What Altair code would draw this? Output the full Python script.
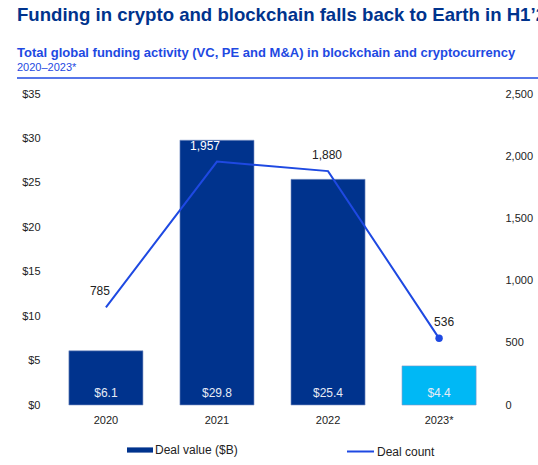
import altair as alt
import pandas as pd

# Funding in blockchain and cryptocurrency, 2020–2023 (2023 = H1)
years = ["2020", "2021", "2022", "2023*"]
deal_value = [6.1, 29.8, 25.4, 4.4]      # $B
deal_count = [785, 1957, 1880, 536]
bar_series = ["Deal value ($B)", "Deal value ($B)", "Deal value ($B)", "H1 2023"]

NAVY = "#00338D"
COBALT = "#1E49E2"
CYAN = "#00B8F5"
FONT = "Liberation Sans"
INK = "#222222"

df = pd.DataFrame({
    "year": years,
    "value": deal_value,
    "count": deal_count,
    "series": bar_series,
    "line": ["Deal count"] * len(years),
    "value_label": [f"${v:.1f}" for v in deal_value],
    "count_label": [f"{c:,}" for c in deal_count],
})

W, H = 445, 311

x = alt.X(
    "year:N", sort=years, title=None,
    scale=alt.Scale(paddingInner=0.333, paddingOuter=0.17),
    axis=alt.Axis(labelAngle=0, labelPadding=9,
                  labelFontSize=11, labelColor=INK, labelFont=FONT),
)

val_scale = alt.Scale(domain=[0, 35], nice=False)
val_axis = alt.Axis(orient="left", values=list(range(0, 36, 5)), labelPadding=10,
                    labelExpr="'$' + datum.value", labelFontSize=11,
                    labelColor=INK, labelFont=FONT)
y_val = alt.Y("value:Q", title=None, scale=val_scale, axis=val_axis)

cnt_axis = alt.Axis(orient="right", values=list(range(0, 2501, 500)),
                    labelPadding=10, labelExpr="format(datum.value, ',')",
                    labelFontSize=11, labelColor=INK, labelFont=FONT)
y_cnt = alt.Y("count:Q", title=None,
              scale=alt.Scale(domain=[0, 2500], nice=False), axis=cnt_axis)

base = alt.Chart(df)

bars = base.mark_bar(stroke="#7f95c6", strokeWidth=0.6).encode(
    x=x,
    y=y_val,
    color=alt.Color(
        "series:N",
        scale=alt.Scale(domain=["Deal value ($B)", "H1 2023"], range=[NAVY, CYAN]),
        legend=alt.Legend(
            title=None, orient="none", legendX=77, legendY=343,
            values=["Deal value ($B)"],
            symbolType="M-1,-0.2H1V0.2H-1Z", symbolSize=676,
            symbolStrokeWidth=0, labelOffset=2,
            labelFont=FONT, labelFontSize=12, labelColor=INK,
        ),
    ),
)

bar_labels = base.mark_text(
    font=FONT, fontSize=12, color="#E6EBF5", baseline="middle", dy=-12
).encode(
    x=x,
    y=alt.YDatum(0, type="quantitative", title=None, scale=val_scale, axis=val_axis),
    text="value_label:N",
)

line = base.mark_line(strokeWidth=2).encode(
    x=x,
    y=y_cnt,
    stroke=alt.Stroke(
        "line:N",
        scale=alt.Scale(domain=["Deal count"], range=[COBALT]),
        legend=alt.Legend(
            title=None, orient="none", legendX=296, legendY=343,
            symbolType="stroke", symbolSize=729, symbolStrokeWidth=2,
            labelOffset=2, labelFont=FONT, labelFontSize=12, labelColor=INK,
        ),
    ),
)

last_point = base.mark_circle(size=55, color=COBALT, opacity=1).encode(
    x=x,
    y=y_cnt,
).transform_filter(alt.datum.year == years[-1])

# Count labels sit above each point, nudged sideways to clear the line
count_dx = {"2020": -6, "2021": -12, "2022": -1, "2023*": 5}
count_colour = {"2021": "#FFFFFF"}
count_labels = [
    base.mark_text(
        font=FONT, fontSize=12, baseline="middle", dx=dx, dy=-16,
        color=count_colour.get(yr, INK),
    ).encode(
        x=x,
        y=y_cnt,
        text="count_label:N",
    ).transform_filter(alt.datum.year == yr)
    for yr, dx in count_dx.items()
]

value_layer = alt.layer(bars, bar_labels)
count_layer = alt.layer(line, last_point, *count_labels)

one = pd.DataFrame({"k": [0]})


def header(text, y, size, weight, colour):
    return alt.Chart(one).mark_text(
        text=text, font=FONT, fontSize=size, fontWeight=weight,
        color=colour, align="left", baseline="alphabetic",
    ).encode(x=alt.value(-33), y=alt.value(y))


title = header("Funding in crypto and blockchain falls back to Earth in H1’23",
               -73, 18.6, "bold", NAVY)
subtitle = header(
    "Total global funding activity (VC, PE and M&A) in blockchain and cryptocurrency",
    -37, 13, "bold", COBALT)
period = header("2020–2023*", -23, 11, "normal", COBALT)
divider = alt.Chart(one).mark_rule(color=COBALT, strokeWidth=1.5).encode(
    x=alt.value(-33), x2=alt.value(500), y=alt.value(-16)
)

chart = alt.layer(
    value_layer, count_layer, title, subtitle, period, divider
).resolve_scale(
    y="independent", color="independent", stroke="independent"
).properties(
    width=W, height=H,
    background="white",
    autosize=alt.AutoSizeParams(type="none"),
    padding={"left": 50, "top": 94, "right": 43, "bottom": 60},
).configure_view(
    strokeWidth=0
).configure_axis(
    domain=False, ticks=False, grid=False
)

chart.save("out.html", embed_options={"renderer": "svg", "actions": False})
